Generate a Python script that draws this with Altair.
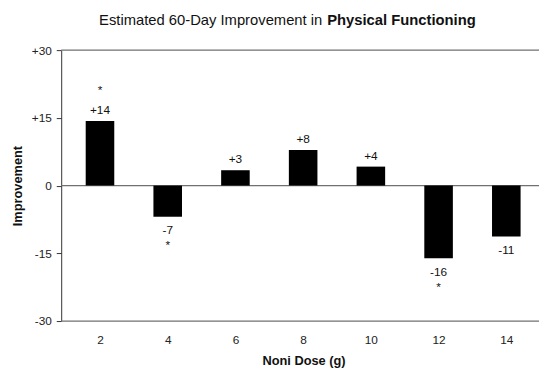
import altair as alt
import pandas as pd

doses = [2, 4, 6, 8, 10, 12, 14]
improvement = [14.3, -6.9, 3.4, 7.9, 4.2, -16.1, -11.3]
labels = ["+14", "-7", "+3", "+8", "+4", "-16", "-11"]
significant = [True, True, False, False, False, True, False]
frame_lines = [-30, 0, 30]
y_ticks = [-30, -15, 0, 15, 30]
x_ticks = [2, 4, 6, 8, 10, 12, 14]

df = pd.DataFrame({"dose": doses, "imp": improvement, "label": labels, "sig": significant})
df["star"] = ["*" if s else "" for s in significant]
lines_df = pd.DataFrame({"v": frame_lines})

FONT = "Liberation Sans"
W, H = 485, 275

x = alt.X("dose:Q", scale=alt.Scale(domain=[1.0, 14.82], nice=False, zero=False),
          axis=alt.Axis(values=x_ticks, ticks=False, domain=False, grid=False,
                        labelPadding=14, labelFontSize=12, labelColor="#222",
                        labelFont=FONT, title="Noni Dose (g)", titleFont=FONT,
                        titleFontSize=13, titleFontWeight="bold", titleColor="#111",
                        titlePadding=9, titleX=246))
y = alt.Y("imp:Q", scale=alt.Scale(domain=[-30, 30], nice=False),
          axis=alt.Axis(values=y_ticks, grid=False, tickSize=5, tickColor="#333",
                        domainColor="#333", labelPadding=5, labelFontSize=12,
                        labelColor="#222", labelFont=FONT,
                        labelExpr="datum.value > 0 ? '+' + datum.value : '' + datum.value",
                        title="Improvement", titleFont=FONT, titleFontSize=13,
                        titleFontWeight="bold", titleColor="#111", titlePadding=7))

base = alt.Chart(df)

bars = base.mark_bar(color="#000", size=29).encode(x=x, y=y, y2=alt.datum(0))

lines = alt.Chart(lines_df).mark_rule(color="#707070", strokeWidth=1.3).encode(
    y=alt.Y("v:Q", scale=alt.Scale(domain=[-30, 30], nice=False)),
    x=alt.value(0), x2=alt.value(W))

pos = base.transform_filter("datum.imp > 0")
neg = base.transform_filter("datum.imp < 0")

tstyle = dict(font=FONT, fontSize=12, color="#111", baseline="middle")
pos_lab = pos.mark_text(dy=-11, **tstyle).encode(x="dose:Q", y="imp:Q", text="label:N")
neg_lab = neg.mark_text(dy=14, **tstyle).encode(x="dose:Q", y="imp:Q", text="label:N")
pos_star = pos.mark_text(dy=-31, **tstyle).encode(x="dose:Q", y="imp:Q", text="star:N")
neg_star = neg.mark_text(dy=29, **tstyle).encode(x="dose:Q", y="imp:Q", text="star:N")

title_a = alt.Chart(pd.DataFrame({"t": ["Estimated 60-Day Improvement in"]})).mark_text(
    font=FONT, fontSize=15, color="#111", align="right", baseline="alphabetic").encode(
    x=alt.value(265), y=alt.value(-26), text="t:N")
title_b = alt.Chart(pd.DataFrame({"t": ["Physical Functioning"]})).mark_text(
    font=FONT, fontSize=15, fontWeight="bold", color="#111", align="left",
    baseline="alphabetic").encode(x=alt.value(270), y=alt.value(-26), text="t:N")

chart = alt.layer(lines, bars, pos_lab, neg_lab, pos_star, neg_star, title_a, title_b).properties(
    width=W, height=H,
    autosize=alt.AutoSizeParams(type="none"),
    padding={"left": 54, "top": 40, "right": 0, "bottom": 51},
    background="white",
).configure_view(stroke=None)

chart.save("out.html", embed_options={"renderer": "svg", "actions": False})
